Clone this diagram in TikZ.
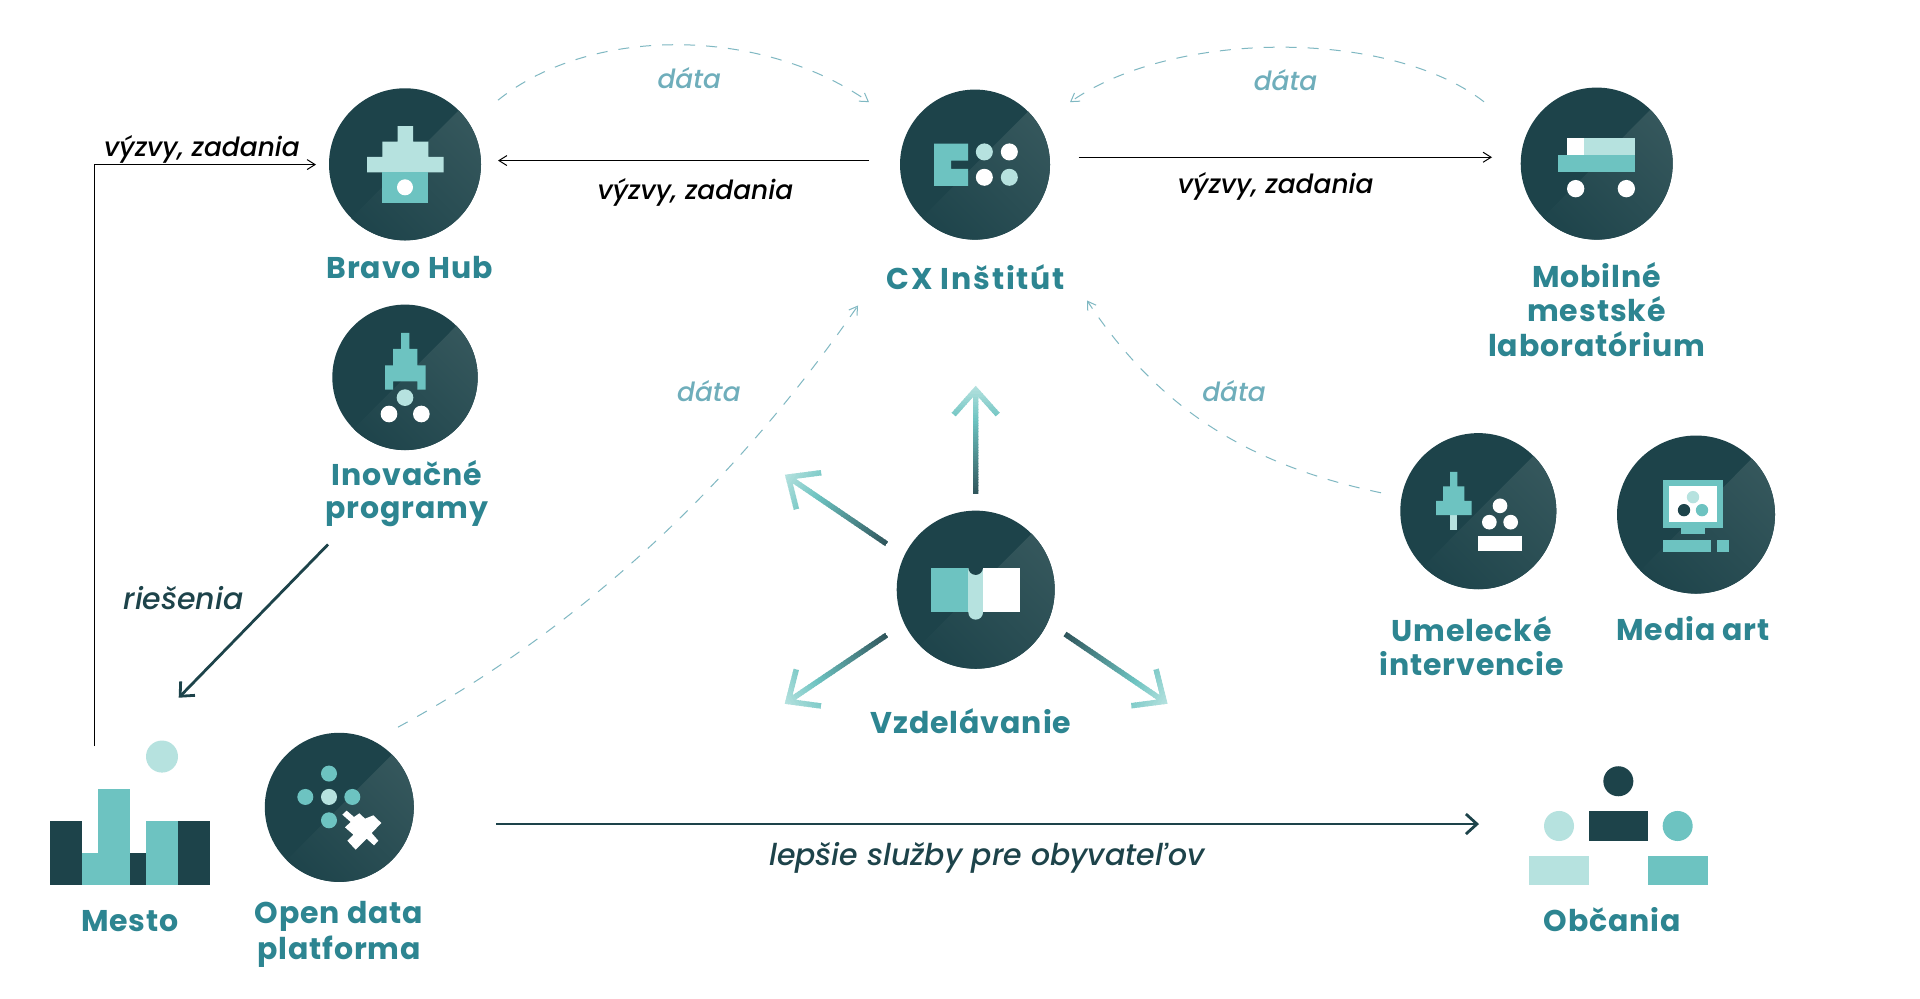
\documentclass[tikz,border=0pt]{standalone}
\usepackage{fontspec}
\setmainfont{Poppins}
\newfontfamily\labfont[LetterSpace=3]{Poppins}
\newfontfamily\labwide[LetterSpace=6]{Poppins}
\newfontfamily\itfont{Poppins Medium Italic}
\usetikzlibrary{arrows.meta}
\definecolor{dk}{HTML}{1D434A}
\definecolor{hubA}{HTML}{35575C}
\definecolor{hubB}{HTML}{1E444B}
\definecolor{teal1}{HTML}{6DC3C1}
\definecolor{lt}{HTML}{B6E2DF}
\definecolor{labc}{HTML}{2D8591}
\definecolor{dash1}{HTML}{7FB8C2}
\definecolor{datac}{HTML}{6FAEBB}
\definecolor{gstart}{HTML}{2F555B}
\tikzset{
  lab/.style={font=\labfont\bfseries\fontsize{15}{15}\selectfont,text=labc,inner sep=0pt,anchor=center},
  labw/.style={font=\labwide\bfseries\fontsize{15}{15}\selectfont,text=labc,inner sep=0pt,anchor=center},
  ital/.style={font=\itfont\fontsize{13.2}{13.2}\selectfont,inner sep=0pt,anchor=center},
  italbig/.style={font=\itfont\fontsize{15}{15}\selectfont,inner sep=0pt,anchor=center},
  thinarrow/.style={draw=black,line width=.5pt,-{Straight Barb[length=4pt,width=5pt,line width=.5pt]}},
  thickarrow/.style={draw=dk,line width=1.4pt,-{Straight Barb[length=5.5pt,width=10pt,line width=1.4pt]}},
  dasharrow/.style={draw=dash1,line width=.5pt,dash pattern=on 5.5pt off 5.5pt,-{Straight Barb[length=4pt,width=5pt,line width=.5pt]}}
}
\newcommand{\hubdisc}[4]{%
  \node[circle,fill=dk,inner sep=0pt,minimum size=#4pt] (#1) at (#2,#3) {};
  \begin{scope}
    \clip (#2,#3) circle[radius=#4];
    \shade[shading=axis,bottom color=hubB,top color=hubA,shading angle=-45]
      ({#2+#4},{#3-#4}) -- ({#2+#4},{#3+#4}) -- ({#2-#4},{#3+#4}) -- cycle;
  \end{scope}
}
\newcommand{\gradarrow}[4]{%
  \begin{scope}[shift={(#1,#2)},rotate=#3]
    \clip (0,2.7) -- ({#4-11.2},2.7) -- ({#4-30.6},19.96) -- ({#4-27},24) -- (#4,0)
      -- ({#4-27},-24) -- ({#4-30.6},-19.96) -- ({#4-11.2},-2.7) -- (0,-2.7) -- cycle;
    \foreach \i in {0,...,39}{
      \pgfmathsetmacro\tt{(\i+.5)/40}
      \pgfmathsetmacro\pa{min(100,\tt/0.68*100)}
      \pgfmathsetmacro\pb{max(0,(\tt-0.68)/0.32*100)}
      \colorlet{segc}{teal1!\pa!gstart}
      \colorlet{segd}{lt!\pb!segc}
      \fill[segd] ({\i*#4/40},-30) rectangle ({(\i+1.3)*#4/40},30);
    }
  \end{scope}
}
\begin{document}
\begin{tikzpicture}[x=.5pt,y=-.5008pt]
\useasboundingbox (0,0) rectangle (1920,997.4);
\fill[white] (0,0) rectangle (1920,997.4);

% ---------- discs
\hubdisc{bravo}{405}{164}{76}
\hubdisc{cx}{975}{164.3}{75}
\hubdisc{mobil}{1596.7}{163.3}{76}
\hubdisc{inov}{405}{376.7}{72.7}
\hubdisc{umel}{1478.3}{510.3}{78}
\hubdisc{media}{1696}{513.7}{79}
\hubdisc{vzdel}{975.7}{588.7}{79}
\hubdisc{open}{339.3}{806}{74.5}

% ---------- icons
\begin{scope}[shift={(300,60)},scale=1/3]
  \fill[lt] (293,198)--(339,198)--(339,244)--(385,244)--(385,290)--(431,290)--(431,336)--(201,336)--(201,290)--(247,290)--(247,244)--(293,244)--cycle;
  \fill[teal1] (247,336) rectangle (385,428);
  \fill[white] (315,381) circle[radius=24];
\end{scope}
\begin{scope}[shift={(880,60)},scale=1/3]
  \fill[teal1] (162,250)--(264,250)--(264,301)--(213,301)--(213,326)--(264,326)--(264,377)--(162,377)--cycle;
  \fill[lt] (313,275) circle[radius=25.5];
  \fill[white] (388,275) circle[radius=25.5];
  \fill[white] (313,351) circle[radius=25.5];
  \fill[lt] (388,351) circle[radius=25.5];
\end{scope}
\begin{scope}[shift={(1500,60)},scale=1/3]
  \fill[white] (201,232) rectangle (253,283);
  \fill[lt] (253,232) rectangle (405,283);
  \fill[teal1] (175,283) rectangle (405,335);
  \fill[white] (227,385) circle[radius=26];
  \fill[white] (379,385) circle[radius=26];
\end{scope}
\begin{scope}[shift={(310,290)},scale=1/3]
  \fill[teal1] (273,127)--(298,127)--(298,175)--(322,175)--(322,224)--(347,224)--(347,297)--(322,297)--(322,272)--(249,272)--(249,297)--(225,297)--(225,224)--(249,224)--(249,175)--(273,175)--cycle;
  \fill[lt] (285,321) circle[radius=25];
  \fill[white] (237,370) circle[radius=25];
  \fill[white] (334,370) circle[radius=25];
\end{scope}
\begin{scope}[shift={(1380,420)},scale=1/3]
  \fill[lt] (210,283) rectangle (232,326);
  \fill[teal1] (210,153)--(232,153)--(232,197)--(253,197)--(253,240)--(275,240)--(275,283)--(168,283)--(168,240)--(189,240)--(189,197)--(210,197)--cycle;
  \fill[white] (360,255) circle[radius=22];
  \fill[white] (328,304) circle[radius=22];
  \fill[white] (392,304) circle[radius=22];
  \fill[white] (295,346) rectangle (425,389);
  \fill[teal1] (849,177) rectangle (1030,322);
  \fill[white] (867,195) rectangle (1012,304);
  \fill[teal1] (903,322) rectangle (976,340);
  \fill[teal1] (849,358) rectangle (994,394);
  \fill[teal1] (1011,358) rectangle (1048,394);
  \fill[lt] (939,229) circle[radius=18.5];
  \fill[dk] (912,268) circle[radius=18.5];
  \fill[teal1] (966,268) circle[radius=18.5];
\end{scope}
\begin{scope}[shift={(770,380)},scale=1/3]
  \fill[teal1] (484,560) rectangle (596,693);
  \fill[white] (638,560) rectangle (750,693);
  \fill[lt] (595,560) rectangle (639,694);
  \fill[lt] (617,694) circle[radius=22];
  \fill[dk] (617,560) circle[radius=22];
\end{scope}
\begin{scope}[shift={(30,720)},scale=1/3]
  \fill[teal1] (897,157) circle[radius=24];
  \fill[teal1] (826,227) circle[radius=24];
  \fill[teal1] (967,227) circle[radius=24];
  \fill[teal1] (897,297) circle[radius=24];
  \fill[lt] (897,227) circle[radius=24];
\end{scope}
\begin{scope}[shift={(330,800)},scale=1/3]
  \fill[white] (37,40)--(50,28)--(72,47)--(88,36)--(105,52)--(130,42)--(154,65)--(125,95)--(145,118)--(132,132)--(110,112)--(77,145)--(52,118)--(70,100)--(45,78)--(62,62)--cycle;
\end{scope}
% Mesto
\begin{scope}[shift={(30,720)},scale=1/3]
  \fill[dk] (59,298) rectangle (156,491);
  \fill[teal1] (156,395) rectangle (203,491);
  \fill[teal1] (203,203) rectangle (300,491);
  \fill[dk] (300,395) rectangle (348,491);
  \fill[teal1] (348,298) rectangle (444,491);
  \fill[dk] (444,298) rectangle (541,491);
  \fill[lt] (396,106) circle[radius=48];
\end{scope}
% Obcania
\begin{scope}[shift={(1510,750)},scale=1/3]
  \fill[dk] (325,90) circle[radius=45];
  \fill[dk] (236,179) rectangle (415,268);
  \fill[lt] (147,224) circle[radius=45];
  \fill[teal1] (503,224) circle[radius=45];
  \fill[lt] (58,313) rectangle (237,402);
  \fill[teal1] (414,313) rectangle (593,402);
\end{scope}

% ---------- gradient arrows around Vzdelavanie
\gradarrow{975.7}{493}{90}{108}
\gradarrow{886.7}{543}{145.8}{123}
\gradarrow{886.7}{634}{214}{123}
\gradarrow{1065}{633}{-34.2}{124}

% ---------- labels
\node[lab] (tbravo) at (409.5,267) {Bravo Hub};
\node[labw] (tcx) at (975.8,277) {CX Inštitút};
\node[lab] (tmob1) at (1596.5,274.5) {Mobilné};
\node[lab] (tmob2) at (1596.5,309) {mestské};
\node[lab] (tmob3) at (1596.5,343.5) {laboratórium};
\node[lab] (tinov1) at (407,472) {Inovačné};
\node[lab] (tinov2) at (407,513) {programy};
\node[lab] (tvzd) at (971,720) {Vzdelávanie};
\node[lab] (tum1) at (1471.6,628) {Umelecké};
\node[lab] (tum2) at (1471.6,663) {intervencie};
\node[lab] (tmed) at (1693,628) {Media art};
\node[lab] (tmesto) at (130,920) {Mesto};
\node[lab] (top1) at (339,915) {Open data};
\node[lab] (top2) at (339,950) {platforma};
\node[lab] (tobc) at (1612.4,918) {Občania};

\node[ital,text=black] (v1) at (202,149) {výzvy, zadania};
\node[ital,text=black] (v2) at (695.4,192) {výzvy, zadania};
\node[ital,text=black] (v3) at (1275.7,186) {výzvy, zadania};
\node[ital,text=datac] (d1) at (689.3,78.4) {dáta};
\node[ital,text=datac] (d2) at (1285.5,79.6) {dáta};
\node[ital,text=datac] (d3) at (708.9,390.5) {dáta};
\node[ital,text=datac] (d4) at (1234,390.5) {dáta};
\node[italbig,text=dk] (ries) at (183.6,597.5) {riešenia};
\node[italbig,text=dk] (lep) at (986.8,856) {lepšie služby pre obyvateľov};

% ---------- connector ends
\coordinate (mestoTop) at (94,745);
\coordinate (corner) at (94,164.3);
\coordinate (bravoL) at (316,164.3);
\coordinate (bravoR) at (498,160.3);
\coordinate (cxL) at (869,160.3);
\coordinate (cxR) at (1078.6,157);
\coordinate (mobilL) at (1492,157);
\coordinate (inovB) at (328,543.6);
\coordinate (mestoA) at (178.7,696.6);
\coordinate (openR) at (496,822.7);
\coordinate (obcL) at (1479,822.7);
\coordinate (bravoD) at (498,100);
\coordinate (cxD1) at (869,102);
\coordinate (mobilD) at (1484,101.6);
\coordinate (cxD2) at (1070,102);
\coordinate (openD) at (398,726);
\coordinate (cxD3) at (858,305);
\coordinate (umelD) at (1381,492);
\coordinate (cxD4) at (1087,300);

% ---------- connectors
\draw[thinarrow] (mestoTop) -- (corner) -- (bravoL);
\draw[thinarrow] (cxL) -- (bravoR);
\draw[thinarrow] (cxR) -- (mobilL);
\draw[thickarrow] (inovB) -- (mestoA);
\draw[thickarrow] (openR) -- (obcL);
\draw[dasharrow] (bravoD) .. controls (590,26) and (760,26) .. (cxD1);
\draw[dasharrow] (mobilD) .. controls (1390,29) and (1175,29) .. (cxD2);
\draw[dasharrow] (openD) .. controls (575,630) and (730,490) .. (cxD3);
\draw[dasharrow] (umelD) .. controls (1262,467) and (1165,418) .. (cxD4);
\end{tikzpicture}
\end{document}
